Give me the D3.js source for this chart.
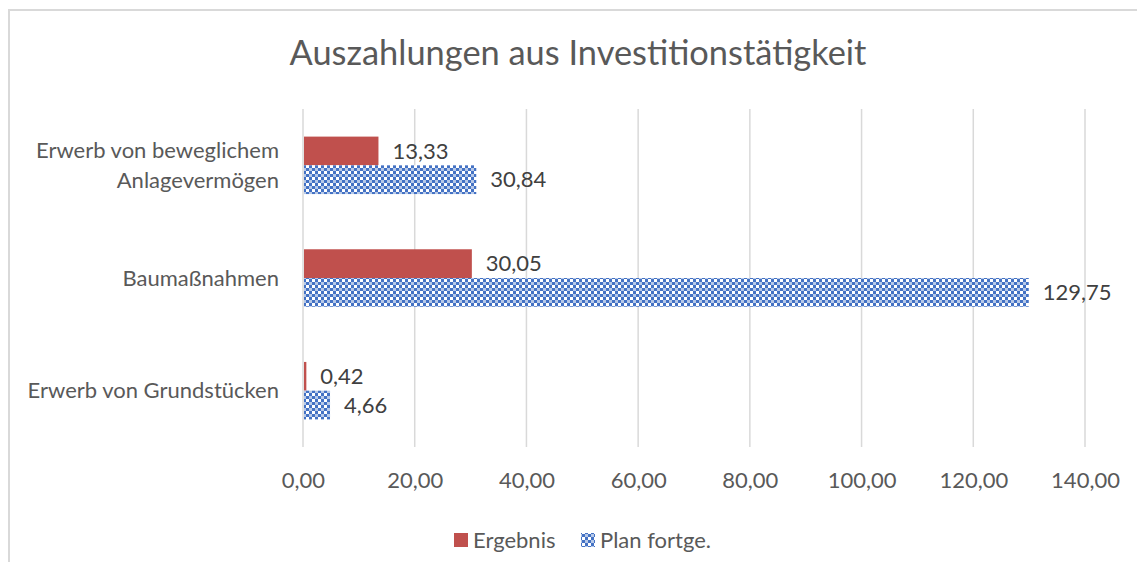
<!DOCTYPE html>
<html><head><meta charset="utf-8">
<script src="https://cdn.jsdelivr.net/npm/d3@7"></script>
<style>body{margin:0;background:#fff}svg{display:block}text{font-family:Lato,"Open Sans",sans-serif}</style>
</head><body>
<script>
const categories = ["Erwerb von beweglichem\nAnlagevermögen", "Baumaßnahmen", "Erwerb von Grundstücken"];
const seriesNames = ["Ergebnis", "Plan fortge."];
const ergebnis = [13.33, 30.05, 0.42];
const plan = [30.84, 129.75, 4.66];
const xTicks = [0, 20, 40, 60, 80, 100, 120, 140];
const title = "Auszahlungen aus Investitionstätigkeit";

const W = 1137, H = 562;
const svg = d3.select("body").append("svg").attr("width", W).attr("height", H);
const defs = svg.append("defs");
const pat = defs.append("pattern").attr("id","chk").attr("patternUnits","userSpaceOnUse")
  .attr("width",6).attr("height",6);
pat.append("rect").attr("width",6).attr("height",6).attr("fill","#ffffff");
pat.append("rect").attr("width",3).attr("height",3).attr("fill","#4472C4");
pat.append("rect").attr("x",3).attr("y",3).attr("width",3).attr("height",3).attr("fill","#4472C4");
pat.append("rect").attr("x",3).attr("y",0).attr("width",3).attr("height",3).attr("fill","#6f93d2").attr("opacity",0.5);
// outer border
svg.append("rect").attr("x",9).attr("y",10).attr("width",W).attr("height",H).attr("fill","none")
  .attr("stroke","#d9d9d9").attr("stroke-width",2);

const x = d3.scaleLinear().domain([0,140]).range([303,1085]);
const y = d3.scaleBand().domain(categories).range([109,447]).paddingInner(0.49).paddingOuter(0.245);
const sub = d3.scaleBand().domain(seriesNames).range([0,y.bandwidth()]);

svg.append("text").attr("x",578).attr("y",65).attr("text-anchor","middle")
  .attr("font-size",34.4).attr("fill","#595959").text(title);

// grid
svg.append("g").selectAll("line").data(xTicks).join("line")
  .attr("x1",d=>x(d)).attr("x2",d=>x(d)).attr("y1",109).attr("y2",447)
  .attr("stroke","#d9d9d9").attr("stroke-width",1.5);

// x axis labels
const xa = svg.append("g").attr("transform","translate(0,447)")
  .call(d3.axisBottom(x).tickValues(xTicks).tickSize(0).tickPadding(25)
    .tickFormat(d=>d3.format(".2f")(d).replace(".",",")));
xa.select(".domain").remove();
xa.selectAll("text").attr("font-size",22).attr("fill","#595959").attr("font-family","Lato");

const data = [ergebnis, plan];
const fills = ["#C0504D","url(#chk)"];
seriesNames.forEach((s,i)=>{
  const g = svg.append("g");
  g.selectAll("rect").data(categories).join("rect")
    .attr("x",x(0)+1).attr("y",c=>y(c)+sub(s))
    .attr("width",(c,j)=>Math.max(1,x(data[i][j])-x(0)))
    .attr("height",sub.bandwidth()).attr("fill",fills[i]);
  g.selectAll("text").data(categories).join("text")
    .attr("x",(c,j)=>x(data[i][j])+15).attr("y",c=>y(c)+sub(s)+sub.bandwidth()/2)
    .attr("dy","0.35em").attr("font-size",22).attr("fill","#404040")
    .text((c,j)=>d3.format(".2f")(data[i][j]).replace(".",","));
});

// category labels
categories.forEach(c=>{
  const lines = c.split("\n");
  const cy = y(c)+y.bandwidth()/2;
  const t = svg.append("text").attr("text-anchor","end").attr("font-size",22).attr("fill","#595959");
  lines.forEach((l,k)=>{
    t.append("tspan").attr("x",279).attr("y",cy+(k-(lines.length-1)/2)*30).attr("dy","0.35em").text(l);
  });
});

// legend
const lg = svg.append("g");
lg.append("rect").attr("x",454).attr("y",533).attr("width",14).attr("height",14).attr("fill","#C0504D");
lg.append("text").attr("x",473).attr("y",540).attr("dy","0.35em").attr("font-size",22).attr("fill","#595959").text(seriesNames[0]);
lg.append("rect").attr("x",581).attr("y",533).attr("width",14).attr("height",14).attr("fill","url(#chk)");
lg.append("text").attr("x",600).attr("y",540).attr("dy","0.35em").attr("font-size",22).attr("fill","#595959").text(seriesNames[1]);
</script>
</body></html>
